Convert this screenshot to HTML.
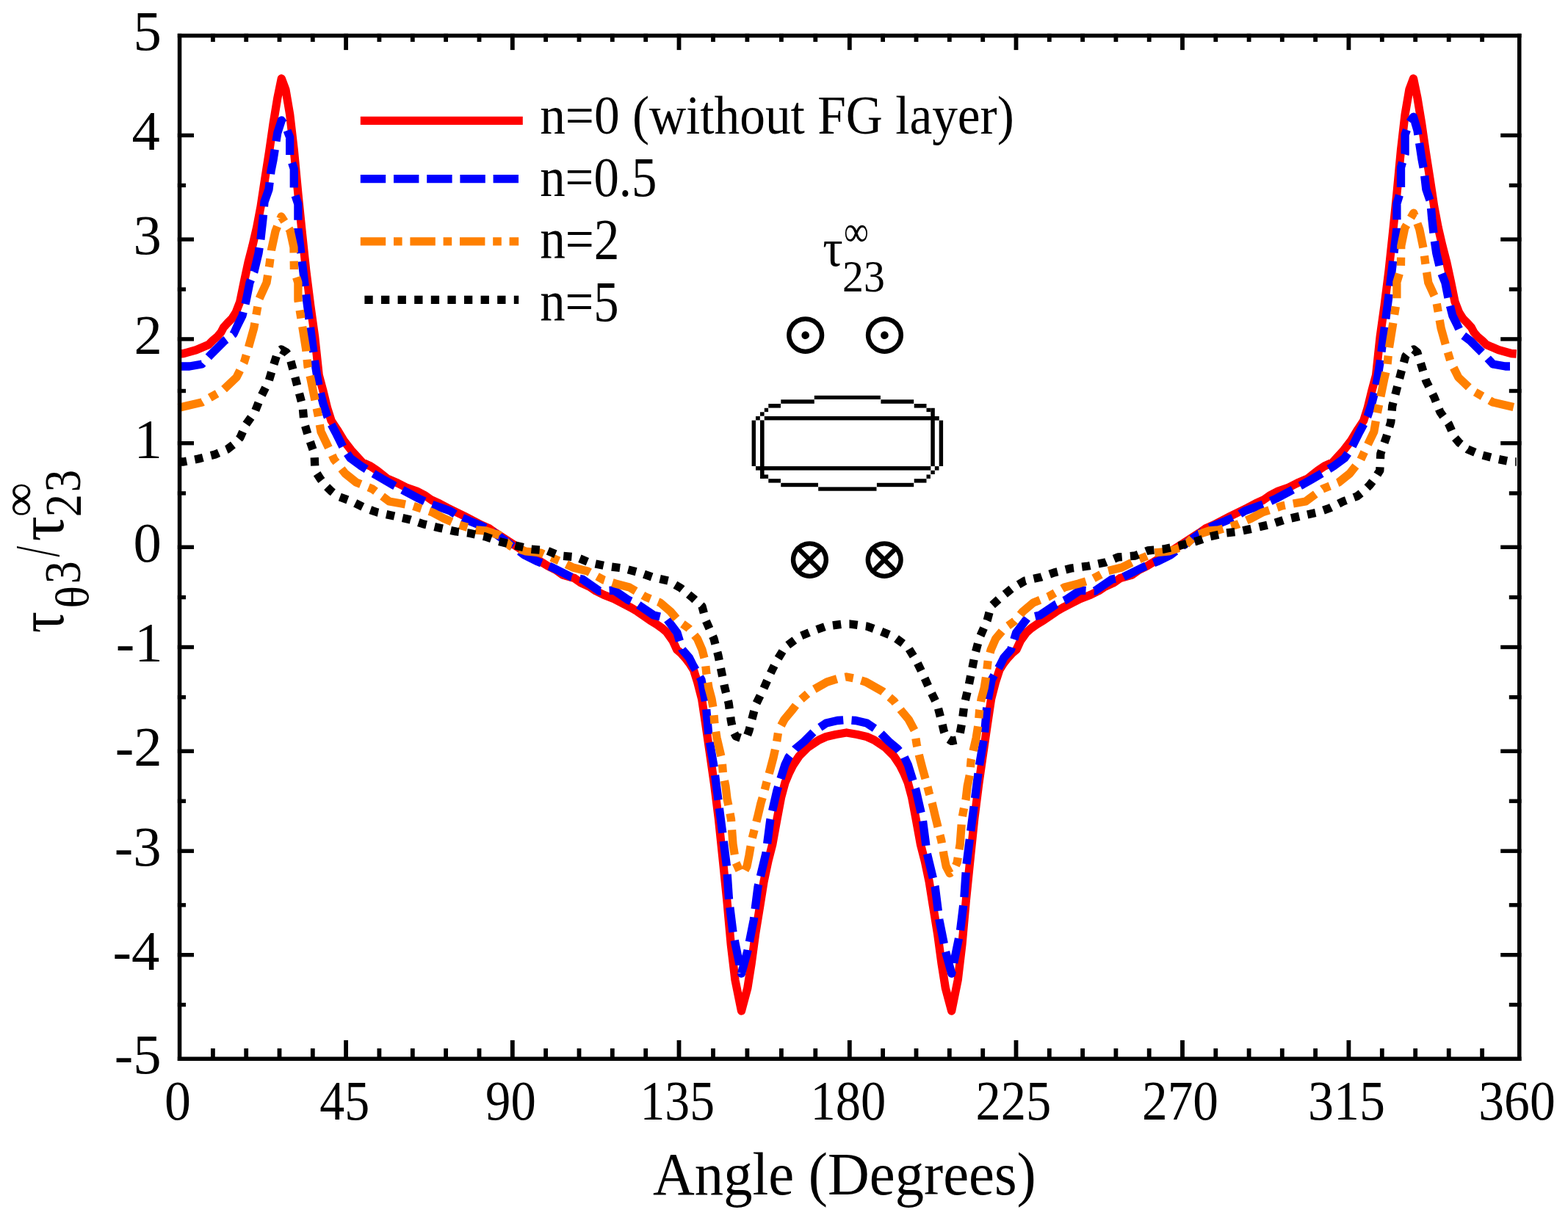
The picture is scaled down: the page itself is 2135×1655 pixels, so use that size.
<!DOCTYPE html>
<html><head><meta charset="utf-8"><title>plot</title><style>
html,body{margin:0;padding:0;background:#fff;}
svg{display:block;}
</style></head><body>
<svg width="2135" height="1655" viewBox="0 0 2135 1655">
<rect x="0" y="0" width="2135" height="1655" fill="#fff"/>
<g fill="none" stroke-linejoin="round" stroke-linecap="butt">
<path d="M243.0 482.0 L250.0 481.5 L267.0 476.8 L284.0 469.5 L290.0 463.5 L296.0 458.5 L301.0 452.5 L304.4 446.0 L309.8 440.0 L315.8 434.0 L321.2 425.5 L326.8 411.0 L332.5 383.0 L338.0 357.5 L343.8 335.0 L349.7 309.5 L355.1 281.0 L360.7 244.0 L366.5 207.0 L372.2 167.6 L377.8 133.6 L383.3 107.0 L388.9 122.0 L394.7 156.0 L400.3 204.5 L405.9 264.0 L411.3 317.0 L416.7 368.0 L422.7 416.0 L428.7 459.0 L434.2 511.0 L440.1 533.0 L445.7 556.0 L451.1 573.0 L459.0 585.0 L468.0 600.0 L478.0 613.0 L493.5 630.0 L504.5 635.0 L513.4 641.0 L527.3 652.0 L541.3 658.0 L553.1 664.0 L567.5 669.0 L579.0 675.0 L587.4 681.0 L598.4 686.0 L609.8 692.0 L632.3 703.0 L643.7 709.0 L655.1 715.0 L666.5 720.0 L675.0 726.0 L683.5 731.5 L709.0 748.0 L728.0 760.0 L746.0 771.0 L757.0 776.5 L766.0 783.0 L782.0 787.5 L791.0 793.8 L803.0 799.3 L811.0 804.8 L822.0 810.3 L836.0 815.8 L848.0 822.0 L859.0 827.6 L868.0 833.0 L876.0 838.6 L885.0 844.9 L894.0 850.4 L902.0 856.0 L908.0 861.4 L916.0 872.7 L921.6 884.9 L927.2 889.6 L932.6 895.6 L938.9 903.7 L944.4 912.4 L949.8 929.5 L955.6 952.0 L961.1 989.0 L967.2 1031.0 L972.5 1068.0 L978.4 1115.0 L983.8 1167.0 L989.8 1226.0 L995.2 1286.0 L1001.0 1335.0 L1009.5 1377.0 L1017.8 1346.0 L1023.2 1312.0 L1028.6 1272.0 L1034.6 1235.0 L1040.0 1201.0 L1045.9 1173.0 L1051.8 1150.0 L1057.6 1118.0 L1063.6 1086.0 L1069.0 1066.0 L1074.0 1054.0 L1080.0 1042.0 L1088.0 1030.0 L1100.0 1018.0 L1115.0 1008.0 L1125.0 1003.5 L1138.0 1000.5 L1152.6 998.0 L1167.2 1000.5 L1180.2 1003.5 L1190.2 1008.0 L1205.2 1018.0 L1217.2 1030.0 L1225.2 1042.0 L1231.2 1054.0 L1236.2 1066.0 L1241.6 1086.0 L1247.6 1118.0 L1253.4 1150.0 L1259.3 1173.0 L1265.2 1201.0 L1270.6 1235.0 L1276.6 1272.0 L1282.0 1312.0 L1287.4 1346.0 L1295.7 1377.0 L1304.2 1335.0 L1310.0 1286.0 L1315.4 1226.0 L1321.4 1167.0 L1326.8 1115.0 L1332.7 1068.0 L1338.0 1031.0 L1344.1 989.0 L1349.6 952.0 L1355.4 929.5 L1360.9 912.4 L1366.4 903.7 L1372.8 895.6 L1378.3 889.6 L1384.0 884.9 L1389.6 872.7 L1397.7 861.4 L1403.8 856.0 L1411.9 850.4 L1421.0 844.9 L1430.2 838.6 L1438.3 833.0 L1447.4 827.6 L1458.5 822.0 L1470.7 815.8 L1484.9 810.3 L1496.0 804.8 L1504.1 799.3 L1516.3 793.8 L1525.4 787.5 L1541.6 783.0 L1550.7 776.5 L1561.8 771.0 L1579.8 760.0 L1598.8 748.0 L1624.3 731.5 L1632.8 726.0 L1641.3 720.0 L1652.7 715.0 L1664.1 709.0 L1675.5 703.0 L1698.0 692.0 L1709.4 686.0 L1720.4 681.0 L1728.8 675.0 L1740.3 669.0 L1754.7 664.0 L1766.5 658.0 L1780.5 652.0 L1794.4 641.0 L1803.3 635.0 L1814.3 630.0 L1829.8 613.0 L1839.8 600.0 L1848.8 585.0 L1856.7 573.0 L1862.1 556.0 L1867.7 533.0 L1873.6 511.0 L1879.1 459.0 L1885.1 416.0 L1891.1 368.0 L1896.5 317.0 L1901.9 264.0 L1907.5 204.5 L1913.1 156.0 L1918.9 122.0 L1924.5 107.0 L1930.0 133.6 L1935.6 167.6 L1941.3 207.0 L1947.1 244.0 L1952.7 281.0 L1958.1 309.5 L1964.0 335.0 L1969.8 357.5 L1975.3 383.0 L1981.0 411.0 L1986.6 425.5 L1992.0 434.0 L1998.0 440.0 L2003.4 446.0 L2006.8 452.5 L2011.8 458.5 L2017.8 463.5 L2023.8 469.5 L2040.8 476.8 L2057.8 481.5 L2064.8 482.0" stroke="#ff0000" stroke-width="11.3"/>
<path d="M243.0 499.0 L258.0 499.0 L275.0 496.0 L286.0 484.0 L296.0 474.0 L306.0 464.0 L318.0 455.0 L324.0 442.0 L330.0 430.0 L335.0 410.0 L340.0 385.0 L346.0 370.0 L352.0 345.0 L355.0 325.0 L358.0 298.0 L360.0 275.0 L366.0 258.0 L369.0 233.0 L372.0 218.0 L377.8 181.0 L383.3 164.0 L388.9 172.0 L394.7 187.0 L394.7 213.0 L400.3 230.0 L400.3 261.0 L405.9 278.0 L405.9 312.0 L411.3 357.0 L416.7 402.0 L422.6 447.0 L428.5 492.0 L434.2 527.0 L440.1 550.0 L445.7 567.0 L451.1 578.0 L457.0 589.0 L468.0 611.0 L477.0 624.0 L492.0 635.0 L505.0 643.0 L522.0 653.0 L536.0 661.0 L553.0 670.0 L570.0 679.0 L585.0 686.0 L613.0 696.0 L624.0 703.0 L640.0 710.0 L655.0 716.0 L669.0 723.0 L690.0 738.0 L714.0 756.0 L730.0 764.0 L752.0 773.0 L778.0 786.0 L793.0 789.0 L816.0 805.0 L836.0 804.0 L855.0 817.0 L868.0 823.0 L890.0 838.0 L907.0 842.0 L922.0 862.0 L929.0 885.0 L938.5 896.0 L944.0 907.0 L950.0 917.0 L955.0 926.0 L961.0 958.0 L965.0 1003.0 L972.0 1044.0 L978.0 1090.0 L983.7 1134.0 L989.5 1180.0 L992.5 1225.0 L998.0 1270.0 L1009.5 1326.0 L1018.0 1295.0 L1026.3 1253.0 L1032.0 1208.0 L1043.0 1162.0 L1048.8 1117.0 L1057.9 1077.0 L1068.8 1042.0 L1074.0 1031.0 L1083.0 1020.0 L1095.0 1010.0 L1110.0 995.0 L1125.0 985.0 L1140.0 981.5 L1152.6 980.5 L1165.2 981.5 L1180.2 985.0 L1195.2 995.0 L1210.2 1010.0 L1222.2 1020.0 L1231.2 1031.0 L1236.4 1042.0 L1247.3 1077.0 L1256.4 1117.0 L1262.2 1162.0 L1273.2 1208.0 L1278.9 1253.0 L1287.2 1295.0 L1295.7 1326.0 L1307.2 1270.0 L1312.7 1225.0 L1315.7 1180.0 L1321.5 1134.0 L1327.2 1090.0 L1333.2 1044.0 L1340.2 1003.0 L1344.2 958.0 L1350.2 926.0 L1355.2 917.0 L1361.3 907.0 L1366.8 896.0 L1376.5 885.0 L1383.6 862.0 L1398.8 842.0 L1416.0 838.0 L1438.3 823.0 L1451.4 817.0 L1470.7 804.0 L1490.9 805.0 L1514.2 789.0 L1529.4 786.0 L1555.8 773.0 L1577.8 764.0 L1593.8 756.0 L1617.8 738.0 L1638.8 723.0 L1652.8 716.0 L1667.8 710.0 L1683.8 703.0 L1694.8 696.0 L1722.8 686.0 L1737.8 679.0 L1754.8 670.0 L1771.8 661.0 L1785.8 653.0 L1802.8 643.0 L1815.8 635.0 L1830.8 624.0 L1839.8 611.0 L1850.8 589.0 L1856.7 578.0 L1862.1 567.0 L1867.7 550.0 L1873.6 527.0 L1879.3 492.0 L1885.2 447.0 L1891.1 402.0 L1896.5 357.0 L1901.9 311.4 L1901.9 277.4 L1907.5 259.0 L1907.5 228.0 L1913.1 209.5 L1913.1 183.5 L1918.9 167.1 L1924.5 159.2 L1930.0 177.6 L1935.8 216.0 L1938.8 231.8 L1941.8 257.6 L1947.8 275.0 L1949.8 298.0 L1952.8 325.0 L1955.8 345.0 L1961.8 370.0 L1967.8 385.0 L1972.8 410.0 L1977.8 430.0 L1983.8 442.0 L1989.8 455.0 L2001.8 464.0 L2011.8 474.0 L2021.8 484.0 L2032.8 496.0 L2049.8 499.0 L2064.8 499.0" stroke="#0000ff" stroke-width="11.3" stroke-dasharray="34 11.3"/>
<path d="M243.0 555.5 L262.0 551.0 L275.0 548.0 L287.0 541.0 L303.0 532.0 L322.0 514.0 L332.5 493.0 L337.6 476.0 L345.7 447.0 L349.0 428.0 L352.5 408.0 L363.0 385.0 L366.5 363.4 L369.6 340.0 L375.0 315.0 L383.0 295.0 L395.0 314.0 L400.0 337.0 L400.4 368.0 L405.9 385.0 L405.9 408.7 L411.3 442.0 L416.7 475.8 L419.0 499.0 L423.0 516.0 L428.5 543.0 L433.0 565.0 L437.0 588.0 L445.6 606.0 L455.0 626.0 L470.0 645.0 L485.0 657.0 L507.0 666.0 L530.0 683.0 L547.0 686.0 L562.0 689.0 L589.0 698.0 L604.0 706.0 L622.0 714.0 L649.0 722.0 L661.0 723.0 L680.0 729.0 L695.0 744.0 L716.0 751.0 L736.0 753.0 L766.0 766.0 L780.0 773.0 L800.0 778.0 L822.0 790.0 L838.0 795.0 L857.0 800.0 L879.0 813.0 L899.0 821.0 L913.0 833.0 L924.0 846.0 L938.0 856.0 L949.5 870.0 L956.0 885.0 L960.0 900.0 L962.0 918.0 L965.0 937.0 L969.0 952.0 L971.5 967.0 L973.0 986.0 L976.0 1005.0 L979.5 1020.0 L983.0 1035.0 L984.5 1054.0 L988.0 1071.0 L990.0 1088.0 L993.5 1105.0 L995.5 1116.0 L998.0 1150.0 L1002.0 1175.0 L1007.0 1186.0 L1012.0 1189.5 L1017.0 1180.0 L1020.0 1165.0 L1023.4 1145.0 L1028.0 1127.0 L1032.0 1111.0 L1036.0 1094.0 L1040.3 1079.5 L1044.0 1065.0 L1048.7 1048.4 L1053.0 1032.0 L1057.0 1014.0 L1060.0 995.0 L1068.0 980.0 L1078.0 968.0 L1088.0 955.0 L1103.0 942.0 L1126.0 929.0 L1142.0 924.0 L1152.6 922.0 L1163.2 924.0 L1179.2 929.0 L1202.2 942.0 L1217.2 955.0 L1227.2 968.0 L1237.2 980.0 L1245.2 995.0 L1248.2 1014.0 L1252.2 1032.0 L1256.5 1048.4 L1261.2 1065.0 L1264.9 1079.5 L1269.2 1094.0 L1273.2 1111.0 L1277.2 1127.0 L1281.8 1145.0 L1285.2 1165.0 L1288.2 1180.0 L1293.2 1189.5 L1298.2 1186.0 L1303.2 1175.0 L1307.2 1150.0 L1309.7 1116.0 L1311.7 1105.0 L1315.2 1088.0 L1317.2 1071.0 L1320.7 1054.0 L1322.2 1035.0 L1325.7 1020.0 L1329.2 1005.0 L1332.2 986.0 L1333.7 967.0 L1336.2 952.0 L1340.2 937.0 L1343.2 918.0 L1345.2 900.0 L1349.2 885.0 L1355.7 870.0 L1367.4 856.0 L1381.5 846.0 L1392.7 833.0 L1406.9 821.0 L1427.1 813.0 L1449.4 800.0 L1468.7 795.0 L1484.9 790.0 L1507.2 778.0 L1527.4 773.0 L1541.6 766.0 L1571.8 753.0 L1591.8 751.0 L1612.8 744.0 L1627.8 729.0 L1646.8 723.0 L1658.8 722.0 L1685.8 714.0 L1703.8 706.0 L1718.8 698.0 L1745.8 689.0 L1760.8 686.0 L1777.8 683.0 L1800.8 666.0 L1822.8 657.0 L1837.8 645.0 L1852.8 626.0 L1862.2 606.0 L1870.8 588.0 L1874.8 565.0 L1879.3 543.0 L1884.8 516.0 L1888.8 499.0 L1891.1 475.8 L1896.5 442.0 L1901.9 408.1 L1901.9 384.4 L1907.4 366.0 L1907.8 334.9 L1912.8 310.6 L1924.8 290.2 L1932.8 312.3 L1938.2 338.7 L1941.3 362.8 L1944.8 385.0 L1955.3 408.0 L1958.8 428.0 L1962.1 447.0 L1970.2 476.0 L1975.3 493.0 L1985.8 514.0 L2004.8 532.0 L2020.8 541.0 L2032.8 548.0 L2045.8 551.0 L2064.8 555.5" stroke="#ff8000" stroke-width="11.3" stroke-dasharray="34 11.3 11.3 11.3"/>
<path d="M243.0 629.0 L250.0 629.0 L270.0 625.0 L293.0 619.0 L309.5 612.0 L321.0 603.0 L327.0 596.0 L335.0 578.0 L347.0 561.0 L355.0 541.0 L366.0 519.0 L372.0 499.0 L378.0 480.0 L383.0 476.0 L390.0 480.0 L394.0 485.0 L400.0 507.0 L406.0 530.0 L412.0 553.0 L414.0 575.0 L420.0 595.0 L428.0 618.0 L429.0 641.0 L436.0 652.0 L443.0 661.0 L451.0 669.0 L460.0 676.0 L479.0 683.0 L497.0 692.0 L514.0 698.0 L537.0 703.0 L559.0 708.0 L577.0 714.0 L598.0 719.0 L621.0 724.0 L638.0 726.0 L661.0 731.0 L678.0 737.0 L701.0 743.0 L723.0 748.0 L745.0 750.0 L762.0 757.0 L785.0 759.0 L802.0 766.0 L825.0 771.0 L848.0 774.0 L871.0 780.0 L888.0 786.0 L910.0 791.0 L927.0 801.0 L944.0 815.0 L956.0 826.0 L961.0 845.0 L972.0 870.0 L978.0 893.0 L982.0 913.0 L986.4 935.0 L992.2 958.0 L995.3 981.0 L998.0 995.0 L1002.0 1003.0 L1009.5 1005.5 L1017.0 1003.0 L1020.0 995.0 L1023.0 983.0 L1029.0 960.0 L1040.0 937.5 L1048.7 918.0 L1057.0 901.0 L1069.0 881.5 L1088.5 867.0 L1108.7 858.8 L1125.0 853.0 L1148.0 850.0 L1152.6 850.0 L1157.2 850.0 L1180.2 853.0 L1196.5 858.8 L1216.7 867.0 L1236.2 881.5 L1248.2 901.0 L1256.5 918.0 L1265.2 937.5 L1276.2 960.0 L1282.2 983.0 L1285.2 995.7 L1288.2 1004.6 L1295.7 1009.4 L1303.2 1007.8 L1307.2 998.6 L1309.9 983.8 L1313.0 959.8 L1318.8 935.1 L1323.2 913.0 L1327.2 893.0 L1333.2 870.0 L1344.2 845.0 L1349.2 826.0 L1361.3 815.0 L1378.5 801.0 L1395.7 791.0 L1418.0 786.0 L1435.2 780.0 L1458.5 774.0 L1481.8 771.0 L1505.1 766.0 L1522.3 759.0 L1545.6 757.0 L1562.8 750.0 L1584.8 748.0 L1606.8 743.0 L1629.8 737.0 L1646.8 731.0 L1669.8 726.0 L1686.8 724.0 L1709.8 719.0 L1730.8 714.0 L1748.8 708.0 L1770.8 703.0 L1793.8 698.0 L1810.8 692.0 L1828.8 683.0 L1847.8 676.0 L1856.8 669.0 L1864.8 661.0 L1871.8 652.0 L1878.8 641.0 L1879.8 618.0 L1887.8 595.0 L1893.8 575.0 L1895.8 553.0 L1901.8 530.0 L1907.8 507.0 L1913.8 485.0 L1917.8 480.0 L1924.8 476.0 L1929.8 480.0 L1935.8 499.0 L1941.8 519.0 L1952.8 541.0 L1960.8 561.0 L1972.8 578.0 L1980.8 596.0 L1986.8 603.0 L1998.3 612.0 L2014.8 619.0 L2037.8 625.0 L2057.8 629.0 L2064.8 629.0" stroke="#000" stroke-width="11.3" stroke-dasharray="11.3 11.3"/>
</g>
<g fill="#000">
<rect x="241.8" y="45.8" width="1829.7" height="5.5"/>
<rect x="241.8" y="1439.5" width="1829.7" height="5.5"/>
<rect x="241.8" y="45.8" width="5.5" height="1399.2"/>
<rect x="2066.0" y="45.8" width="5.5" height="1399.2"/>
<rect x="468.2" y="45.8" width="5.8" height="22.3"/>
<rect x="468.2" y="1416.9" width="5.8" height="28.1"/>
<rect x="694.9" y="45.8" width="5.8" height="22.3"/>
<rect x="694.9" y="1416.9" width="5.8" height="28.1"/>
<rect x="921.6" y="45.8" width="5.8" height="22.3"/>
<rect x="921.6" y="1416.9" width="5.8" height="28.1"/>
<rect x="1153.9" y="45.8" width="5.8" height="22.3"/>
<rect x="1153.9" y="1416.9" width="5.8" height="28.1"/>
<rect x="1380.6" y="45.8" width="5.8" height="22.3"/>
<rect x="1380.6" y="1416.9" width="5.8" height="28.1"/>
<rect x="1607.1" y="45.8" width="5.8" height="22.3"/>
<rect x="1607.1" y="1416.9" width="5.8" height="28.1"/>
<rect x="1833.5" y="45.8" width="5.8" height="22.3"/>
<rect x="1833.5" y="1416.9" width="5.8" height="28.1"/>
<rect x="287.0" y="45.8" width="5.8" height="11.2"/>
<rect x="287.0" y="1428.1" width="5.8" height="16.9"/>
<rect x="332.3" y="45.8" width="5.8" height="11.2"/>
<rect x="332.3" y="1428.1" width="5.8" height="16.9"/>
<rect x="377.6" y="45.8" width="5.8" height="11.2"/>
<rect x="377.6" y="1428.1" width="5.8" height="16.9"/>
<rect x="422.9" y="45.8" width="5.8" height="11.2"/>
<rect x="422.9" y="1428.1" width="5.8" height="16.9"/>
<rect x="513.5" y="45.8" width="5.8" height="11.2"/>
<rect x="513.5" y="1428.1" width="5.8" height="16.9"/>
<rect x="558.9" y="45.8" width="5.8" height="11.2"/>
<rect x="558.9" y="1428.1" width="5.8" height="16.9"/>
<rect x="604.2" y="45.8" width="5.8" height="11.2"/>
<rect x="604.2" y="1428.1" width="5.8" height="16.9"/>
<rect x="649.6" y="45.8" width="5.8" height="11.2"/>
<rect x="649.6" y="1428.1" width="5.8" height="16.9"/>
<rect x="740.2" y="45.8" width="5.8" height="11.2"/>
<rect x="740.2" y="1428.1" width="5.8" height="16.9"/>
<rect x="785.6" y="45.8" width="5.8" height="11.2"/>
<rect x="785.6" y="1428.1" width="5.8" height="16.9"/>
<rect x="830.9" y="45.8" width="5.8" height="11.2"/>
<rect x="830.9" y="1428.1" width="5.8" height="16.9"/>
<rect x="876.3" y="45.8" width="5.8" height="11.2"/>
<rect x="876.3" y="1428.1" width="5.8" height="16.9"/>
<rect x="968.1" y="45.8" width="5.8" height="11.2"/>
<rect x="968.1" y="1428.1" width="5.8" height="16.9"/>
<rect x="1014.5" y="45.8" width="5.8" height="11.2"/>
<rect x="1014.5" y="1428.1" width="5.8" height="16.9"/>
<rect x="1061.0" y="45.8" width="5.8" height="11.2"/>
<rect x="1061.0" y="1428.1" width="5.8" height="16.9"/>
<rect x="1107.4" y="45.8" width="5.8" height="11.2"/>
<rect x="1107.4" y="1428.1" width="5.8" height="16.9"/>
<rect x="1199.2" y="45.8" width="5.8" height="11.2"/>
<rect x="1199.2" y="1428.1" width="5.8" height="16.9"/>
<rect x="1244.6" y="45.8" width="5.8" height="11.2"/>
<rect x="1244.6" y="1428.1" width="5.8" height="16.9"/>
<rect x="1289.9" y="45.8" width="5.8" height="11.2"/>
<rect x="1289.9" y="1428.1" width="5.8" height="16.9"/>
<rect x="1335.3" y="45.8" width="5.8" height="11.2"/>
<rect x="1335.3" y="1428.1" width="5.8" height="16.9"/>
<rect x="1425.9" y="45.8" width="5.8" height="11.2"/>
<rect x="1425.9" y="1428.1" width="5.8" height="16.9"/>
<rect x="1471.2" y="45.8" width="5.8" height="11.2"/>
<rect x="1471.2" y="1428.1" width="5.8" height="16.9"/>
<rect x="1516.5" y="45.8" width="5.8" height="11.2"/>
<rect x="1516.5" y="1428.1" width="5.8" height="16.9"/>
<rect x="1561.8" y="45.8" width="5.8" height="11.2"/>
<rect x="1561.8" y="1428.1" width="5.8" height="16.9"/>
<rect x="1652.4" y="45.8" width="5.8" height="11.2"/>
<rect x="1652.4" y="1428.1" width="5.8" height="16.9"/>
<rect x="1697.7" y="45.8" width="5.8" height="11.2"/>
<rect x="1697.7" y="1428.1" width="5.8" height="16.9"/>
<rect x="1742.9" y="45.8" width="5.8" height="11.2"/>
<rect x="1742.9" y="1428.1" width="5.8" height="16.9"/>
<rect x="1788.2" y="45.8" width="5.8" height="11.2"/>
<rect x="1788.2" y="1428.1" width="5.8" height="16.9"/>
<rect x="1878.9" y="45.8" width="5.8" height="11.2"/>
<rect x="1878.9" y="1428.1" width="5.8" height="16.9"/>
<rect x="1924.3" y="45.8" width="5.8" height="11.2"/>
<rect x="1924.3" y="1428.1" width="5.8" height="16.9"/>
<rect x="1969.8" y="45.8" width="5.8" height="11.2"/>
<rect x="1969.8" y="1428.1" width="5.8" height="16.9"/>
<rect x="2015.2" y="45.8" width="5.8" height="11.2"/>
<rect x="2015.2" y="1428.1" width="5.8" height="16.9"/>
<rect x="241.8" y="181.7" width="22.2" height="5.4"/>
<rect x="2043.2" y="181.7" width="28.3" height="5.4"/>
<rect x="241.8" y="249.8" width="11.2" height="5.4"/>
<rect x="2054.8" y="249.8" width="16.7" height="5.4"/>
<rect x="241.8" y="323.4" width="22.2" height="5.4"/>
<rect x="2043.2" y="323.4" width="28.3" height="5.4"/>
<rect x="241.8" y="391.4" width="11.2" height="5.4"/>
<rect x="2054.8" y="391.4" width="16.7" height="5.4"/>
<rect x="241.8" y="459.2" width="22.2" height="5.4"/>
<rect x="2043.2" y="459.2" width="28.3" height="5.4"/>
<rect x="241.8" y="529.8" width="11.2" height="5.4"/>
<rect x="2054.8" y="529.8" width="16.7" height="5.4"/>
<rect x="241.8" y="601.0" width="22.2" height="5.4"/>
<rect x="2043.2" y="601.0" width="28.3" height="5.4"/>
<rect x="241.8" y="669.2" width="11.2" height="5.4"/>
<rect x="2054.8" y="669.2" width="16.7" height="5.4"/>
<rect x="241.8" y="742.6" width="22.2" height="5.4"/>
<rect x="2043.2" y="742.6" width="28.3" height="5.4"/>
<rect x="241.8" y="810.9" width="11.2" height="5.4"/>
<rect x="2054.8" y="810.9" width="16.7" height="5.4"/>
<rect x="241.8" y="878.8" width="22.2" height="5.4"/>
<rect x="2043.2" y="878.8" width="28.3" height="5.4"/>
<rect x="241.8" y="947.0" width="11.2" height="5.4"/>
<rect x="2054.8" y="947.0" width="16.7" height="5.4"/>
<rect x="241.8" y="1020.5" width="22.2" height="5.4"/>
<rect x="2043.2" y="1020.5" width="28.3" height="5.4"/>
<rect x="241.8" y="1088.5" width="11.2" height="5.4"/>
<rect x="2054.8" y="1088.5" width="16.7" height="5.4"/>
<rect x="241.8" y="1156.5" width="22.2" height="5.4"/>
<rect x="2043.2" y="1156.5" width="28.3" height="5.4"/>
<rect x="241.8" y="1230.1" width="11.2" height="5.4"/>
<rect x="2054.8" y="1230.1" width="16.7" height="5.4"/>
<rect x="241.8" y="1298.0" width="22.2" height="5.4"/>
<rect x="2043.2" y="1298.0" width="28.3" height="5.4"/>
<rect x="241.8" y="1365.9" width="11.2" height="5.4"/>
<rect x="2054.8" y="1365.9" width="16.7" height="5.4"/>
</g>
<g fill="none" stroke-width="11.3">
<path d="M490.8 164.4 H711.8" stroke="#ff0000"/>
<path d="M490.8 243.7 H706.2" stroke="#0000ff" stroke-dasharray="34.4 10.8"/>
<path d="M490.8 328.8 H706.2" stroke="#ff8000" stroke-dasharray="34.4 10.8 11.6 10.8"/>
<path d="M496.4 408.4 H706.2" stroke="#000" stroke-dasharray="11.3 11.3"/>
</g>
<g fill="#000">
<rect x="1108.8" y="538.8" width="90.1" height="5.2"/>
<rect x="1063.3" y="544.3" width="45.5" height="5.5"/>
<rect x="1199.4" y="544.3" width="44.8" height="5.5"/>
<rect x="1046.3" y="550.0" width="16.7" height="5.6"/>
<rect x="1244.7" y="550.0" width="16.8" height="5.6"/>
<rect x="1040.8" y="555.8" width="5.3" height="5.3"/>
<rect x="1261.5" y="555.8" width="5.8" height="5.3"/>
<rect x="1035.0" y="561.3" width="5.6" height="5.4"/>
<rect x="1029.0" y="567.0" width="5.8" height="5.4"/>
<rect x="1272.8" y="567.0" width="5.7" height="5.4"/>
<rect x="1023.6" y="572.6" width="5.4" height="62.4"/>
<rect x="1278.7" y="572.6" width="5.4" height="62.4"/>
<rect x="1029.0" y="635.1" width="238.3" height="5.5"/>
<rect x="1272.8" y="635.1" width="5.7" height="5.5"/>
<rect x="1267.3" y="640.8" width="5.5" height="5.2"/>
<rect x="1035.0" y="646.5" width="11.1" height="5.4"/>
<rect x="1261.5" y="646.5" width="5.4" height="5.4"/>
<rect x="1046.3" y="652.2" width="16.7" height="5.4"/>
<rect x="1244.7" y="652.2" width="16.8" height="5.4"/>
<rect x="1063.3" y="657.8" width="50.7" height="5.4"/>
<rect x="1193.9" y="657.8" width="50.3" height="5.4"/>
<rect x="1114.2" y="663.4" width="79.3" height="5.3"/>
<rect x="1040.8" y="567.0" width="237.7" height="5.4"/>
<rect x="1035.0" y="572.4" width="5.6" height="79.5"/>
<rect x="1267.3" y="555.8" width="5.5" height="79.3"/>
</g>
<g fill="#000">
<text transform="translate(181.55,68.20) scale(1.0367,1.0367)" font-family="'Liberation Serif', serif" font-size="74">5</text>
<text transform="translate(179.48,204.20) scale(1.0367,1.0367)" font-family="'Liberation Serif', serif" font-size="74">4</text>
<text transform="translate(181.55,345.90) scale(1.0367,1.0367)" font-family="'Liberation Serif', serif" font-size="74">3</text>
<text transform="translate(182.59,481.70) scale(1.0367,1.0367)" font-family="'Liberation Serif', serif" font-size="74">2</text>
<text transform="translate(182.59,623.50) scale(1.0367,1.0367)" font-family="'Liberation Serif', serif" font-size="74">1</text>
<text transform="translate(181.55,765.10) scale(1.0367,1.0367)" font-family="'Liberation Serif', serif" font-size="74">0</text>
<text transform="translate(157.71,901.30) scale(1.0367,1.0367)" font-family="'Liberation Serif', serif" font-size="74">-1</text>
<text transform="translate(156.67,1043.00) scale(1.0367,1.0367)" font-family="'Liberation Serif', serif" font-size="74">-2</text>
<text transform="translate(155.63,1179.00) scale(1.0367,1.0367)" font-family="'Liberation Serif', serif" font-size="74">-3</text>
<text transform="translate(153.56,1320.50) scale(1.0367,1.0367)" font-family="'Liberation Serif', serif" font-size="74">-4</text>
<text transform="translate(155.63,1462.20) scale(1.0367,1.0367)" font-family="'Liberation Serif', serif" font-size="74">-5</text>
<text transform="translate(223.99,1524.60) scale(0.9710,1.0367)" font-family="'Liberation Serif', serif" font-size="74">0</text>
<text transform="translate(435.28,1524.60) scale(0.9171,1.0367)" font-family="'Liberation Serif', serif" font-size="74">45</text>
<text transform="translate(661.04,1524.60) scale(0.9290,1.0367)" font-family="'Liberation Serif', serif" font-size="74">90</text>
<text transform="translate(871.50,1524.60) scale(0.9149,1.0367)" font-family="'Liberation Serif', serif" font-size="74">135</text>
<text transform="translate(1103.52,1524.60) scale(0.9257,1.0367)" font-family="'Liberation Serif', serif" font-size="74">180</text>
<text transform="translate(1328.42,1524.60) scale(0.9257,1.0367)" font-family="'Liberation Serif', serif" font-size="74">225</text>
<text transform="translate(1554.99,1524.60) scale(0.9371,1.0367)" font-family="'Liberation Serif', serif" font-size="74">270</text>
<text transform="translate(1781.02,1524.60) scale(0.9452,1.0367)" font-family="'Liberation Serif', serif" font-size="74">315</text>
<text transform="translate(2013.23,1524.60) scale(0.9413,1.0367)" font-family="'Liberation Serif', serif" font-size="74">360</text>
<text transform="translate(889.08,1626.68) scale(0.9249,0.9675)" font-family="'Liberation Serif', serif" font-size="85">Angle (Degrees)</text>
<text transform="translate(735.13,181.95) scale(0.9371,1.0030)" font-family="'Liberation Serif', serif" font-size="74">n=0 (without FG layer)</text>
<text transform="translate(735.14,266.50) scale(0.9307,1.0327)" font-family="'Liberation Serif', serif" font-size="74">n=0.5</text>
<text transform="translate(735.13,352.20) scale(0.9364,1.0449)" font-family="'Liberation Serif', serif" font-size="74">n=2</text>
<text transform="translate(735.14,436.70) scale(0.9279,1.0449)" font-family="'Liberation Serif', serif" font-size="74">n=5</text>
<text transform="translate(86.02,862.09) scale(0.9767,0.7969) rotate(-90)" font-family="'Liberation Serif', serif" font-size="90">τ</text>
<text transform="translate(119.78,828.86) scale(0.7154,0.7143) rotate(-90)" font-family="'Liberation Serif', serif" font-size="90">θ</text>
<text transform="translate(108.73,795.26) scale(0.7705,0.6892) rotate(-90)" font-family="'Liberation Serif', serif" font-size="90">3</text>
<text transform="translate(80.04,758.50) scale(0.9590,0.5800) rotate(-90)" font-family="'Liberation Serif', serif" font-size="90">/</text>
<text transform="translate(86.02,737.41) scale(0.9767,0.9531) rotate(-90)" font-family="'Liberation Serif', serif" font-size="90">τ</text>
<text transform="translate(47.99,703.91) scale(0.7206,0.7281) rotate(-90)" font-family="'Liberation Serif', serif" font-size="90">∞</text>
<text transform="translate(109.50,704.28) scale(0.7833,0.6944) rotate(-90)" font-family="'Liberation Serif', serif" font-size="90">2</text>
<text transform="translate(108.73,670.20) scale(0.7705,0.6757) rotate(-90)" font-family="'Liberation Serif', serif" font-size="90">3</text>
<text transform="translate(1120.15,361.94) scale(0.9231,0.9629)" font-family="'Liberation Serif', serif" font-size="74">τ</text>
<text transform="translate(1148.92,334.72) scale(0.7895,0.9870)" font-family="'Liberation Serif', serif" font-size="60">∞</text>
<text transform="translate(1147.11,397.00) scale(0.9636,1.0231)" font-family="'Liberation Serif', serif" font-size="60">23</text>
<text transform="translate(1062.52,481.70) scale(1.0200,1.0120)" font-family="'DejaVu Serif', 'DejaVu Sans', serif" font-size="80">⊙</text>
<text transform="translate(1170.22,481.70) scale(1.0200,1.0120)" font-family="'DejaVu Serif', 'DejaVu Sans', serif" font-size="80">⊙</text>
<text transform="translate(1068.32,787.50) scale(1.0200,1.0120)" font-family="'DejaVu Serif', 'DejaVu Sans', serif" font-size="80">⊗</text>
<text transform="translate(1170.02,787.50) scale(1.0200,1.0120)" font-family="'DejaVu Serif', 'DejaVu Sans', serif" font-size="80">⊗</text>
</g>
</svg>
</body></html>
